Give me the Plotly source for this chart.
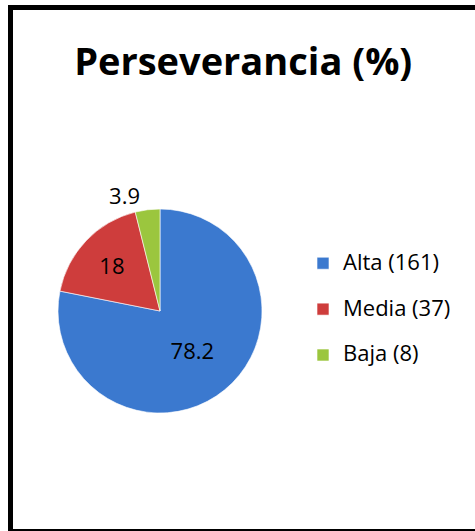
import plotly.graph_objects as go

W, H = 475, 531

title_text = "Perseverancia (%)"
categories = ["Alta (161)", "Media (37)", "Baja (8)"]
values = [78.2, 18, 3.9]
value_labels = ["78.2", "18", "3.9"]
colors = ["#3B79CF", "#CE3D3C", "#9BC63E"]
text_positions = ["inside", "inside", "outside"]

def px_x(p):
    return p / W

def px_y(p):
    return 1 - p / H

legend_labels = ['<span style="font-size:22px">%s</span><br>' % c for c in categories]

fig = go.Figure(go.Pie(
    labels=legend_labels,
    values=values,
    text=value_labels,
    textinfo="text",
    textposition=text_positions,
    textfont=dict(family="Open Sans, sans-serif", size=22, color="#000000"),
    insidetextorientation="horizontal",
    marker=dict(colors=colors, line=dict(color="rgba(255,255,255,0.6)", width=1)),
    sort=False,
    direction="clockwise",
    rotation=0,
    domain=dict(x=[px_x(58), px_x(262)], y=[px_y(413), px_y(209)]),
    hoverinfo="skip",
))

fig.update_layout(
    width=W, height=H,
    margin=dict(l=0, r=0, t=0, b=0),
    paper_bgcolor="white",
    plot_bgcolor="white",
    font=dict(family="Open Sans, sans-serif", color="#000000"),
    title=dict(text="<b>%s</b>" % title_text, x=0.512, xanchor="center",
               y=px_y(62), yanchor="middle",
               font=dict(family="Open Sans, sans-serif", size=38, color="#000000")),
    showlegend=True,
    legend=dict(x=px_x(303), xanchor="left", y=px_y(320), yanchor="middle",
                font=dict(size=16.5, family="Open Sans, sans-serif", color="#000000"),
                valign="top", itemwidth=30, bgcolor="rgba(0,0,0,0)"),
    shapes=[
        dict(type="line", xref="paper", yref="paper", x0=px_x(10.5), x1=px_x(10.5),
             y0=px_y(5), y1=px_y(531), line=dict(color="#000000", width=5)),
        dict(type="line", xref="paper", yref="paper", x0=px_x(8), x1=px_x(475),
             y0=px_y(7.5), y1=px_y(7.5), line=dict(color="#000000", width=5)),
        dict(type="line", xref="paper", yref="paper", x0=px_x(8), x1=px_x(475),
             y0=px_y(530), y1=px_y(530), line=dict(color="#000000", width=2)),
    ],
)

fig.write_html("out.html",
               config={"displayModeBar": False},
               post_script="document.body.style.margin='0';document.body.style.overflow='hidden';")
